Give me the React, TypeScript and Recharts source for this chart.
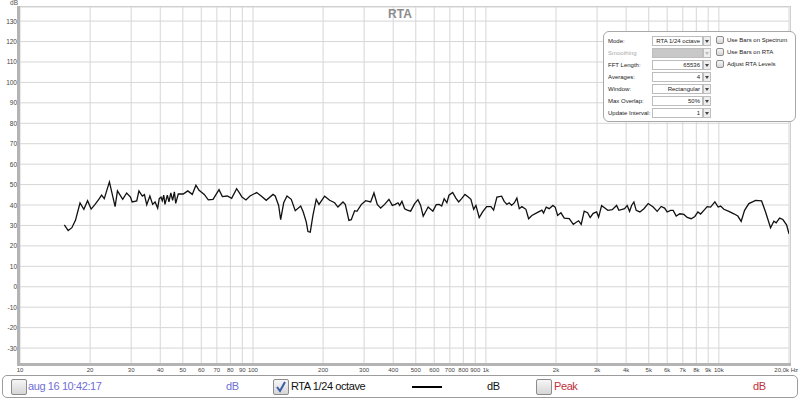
import React from 'react';
import { LineChart, Line, XAxis, YAxis, CartesianGrid } from 'recharts';

// RTA 1/24 octave trace
const freqHz = [
  15.5, 16.1, 16.7, 17.3, 18.1, 18.8, 19.5, 20.2, 21.0, 21.9, 22.4, 23.0, 24.2, 25.6, 26.2, 27.6,
  28.7, 29.8, 30.3, 31.7, 32.4, 33.5, 34.2, 35.0, 36.1, 37.1, 38.0, 39.0, 39.6, 40.3, 40.8, 41.4,
  41.9, 42.9, 43.6, 44.4, 45.2, 46.0, 46.6, 47.8, 50.2, 52.5, 54.9, 56.9, 58.7, 61.8, 64.3, 67.4,
  71.5, 73.9, 77.6, 81.0, 85.1, 87.9, 89.7, 93.3, 97.1, 103.7, 108.5, 114.0, 121.9, 124.6, 128.9,
  131.5, 135.5, 140.0, 146.0, 151.9, 160.3, 164.4, 169.4, 172.2, 176.2, 180.9, 186.9, 192.0, 203.1,
  213.4, 224.2, 231.6, 243.4, 249.0, 258.2, 264.2, 273.2, 279.5, 291.6, 304.6, 320.1, 330.7, 341.7,
  353.3, 367.5, 383.5, 396.3, 408.1, 419.2, 426.3, 436.1, 447.9, 459.5, 475.2, 494.4, 510.8, 524.6,
  538, 565, 592, 612, 630, 646, 662, 680, 694, 720, 743, 764, 787, 813, 840, 862, 886, 906, 936, 968,
  1007, 1051, 1079, 1115, 1168, 1198, 1231, 1259, 1289, 1323, 1358, 1390, 1427, 1485, 1525, 1575,
  1667, 1739, 1768, 1815, 1869, 1939, 1984, 2032, 2099, 2169, 2279, 2371, 2442, 2500, 2564, 2642,
  2732, 2803, 2888, 2987, 3046, 3138, 3273, 3338, 3484, 3639, 3722, 3846, 3938, 4040, 4137, 4220,
  4317, 4417, 4581, 4766, 4973, 5224, 5435, 5655, 5848, 6000, 6205, 6367, 6558, 6801, 7078, 7311,
  7606, 7889, 8127, 8347, 8623, 8909, 9214, 9612, 9931, 10170, 10508, 11038, 11596, 12063, 12464,
  12890, 13450, 14373, 15253, 15864, 16669, 17221, 17615, 18217, 18822, 19522, 20000,
];

const levelDb = [
  30.3, 27.5, 28.9, 32.5, 41, 37.9, 42.1, 38, 40.3, 43.1, 44.8, 43.1, 51.3, 39.2, 46.9, 42.8,
  45.9, 43.9, 41.5, 42, 46.9, 44.4, 45.1, 40.2, 44.4, 40.3, 41.5, 38.5, 43.1, 43.9, 42.1, 44.8,
  40.3, 44.8, 41.5, 45.9, 42.3, 46.4, 40.8, 45.4, 45.4, 46.9, 45.2, 49.7, 47.2, 45.2, 42.5, 42.8,
  47.5, 44.1, 44.4, 43.3, 48, 45.6, 43.9, 42.5, 44.4, 46.1, 44.4, 42.3, 45.2, 44.4, 39.8,
  32.8, 41.1, 44.4, 42.8, 37.2, 39.5, 36.6, 31.6, 27, 26.7, 34.9, 42.8, 40.3, 44.3,
  42.3, 41.1, 39, 41.5, 40.3, 32.5, 32.8, 37.2, 36.9, 40.2, 42.1, 41.5, 45.9, 40.3,
  38.5, 40.3, 42.8, 39.8, 40.3, 41.1, 39.8, 41.8, 38.2, 37.5, 37, 40.7, 42.6, 39.8,
  34.5, 39, 37, 40.2, 40.3, 39.5, 43.1, 41.1, 44.8, 46.1, 43.4, 41.5, 43.1, 45.2, 43.9, 42.8, 37.9, 39.8, 33.8, 36.6,
  39.2, 39.2, 37.5, 43.9, 44.3, 41.8, 40.3, 41.1, 39.8, 41, 43.4, 38.2, 39.2, 37.9, 33.3, 34.9,
  36.4, 37.5, 36.1, 39, 38.2, 39.8, 38.9, 34.9, 36.2, 33.6, 33.3, 30.5, 31.6, 32.3, 30.5, 37,
  36.2, 33.9, 35.9, 36.6, 34.1, 39.7, 38.2, 37.4, 37.7, 39.8, 37.4, 37.9, 38.2, 39.8, 36.9, 39.8,
  41.5, 37.4, 36.6, 38.2, 40.7, 39, 36.9, 39.3, 38.5, 36.6, 37.4, 37.4, 34.6, 35.7, 35.4, 33.9,
  33.3, 34.4, 36.6, 35.6, 37.4, 39.2, 39, 41.5, 39, 39.5, 37.9, 36.9, 35.7, 34.6, 32,
  37.4, 40.7, 42.3, 42, 36.6, 28.9, 32.1, 31.3, 33.6, 32.9, 30.3, 25.9,
];

const xTicks = [
  10, 20, 30, 40, 50, 60, 70, 80, 90, 100, 200, 300, 400, 500, 600, 700, 800, 900,
  1000, 2000, 3000, 4000, 5000, 6000, 7000, 8000, 9000, 10000, 20000,
];
const yTicks = [-30, -20, -10, 0, 10, 20, 30, 40, 50, 60, 70, 80, 90, 100, 110, 120, 130];

const modeRows = [
  { label: 'Mode:', value: 'RTA 1/24 octave' },
  { label: 'Smoothing', value: 'No Smoothing', disabled: true },
  { label: 'FFT Length:', value: '65536' },
  { label: 'Averages:', value: '4' },
  { label: 'Window:', value: 'Rectangular' },
  { label: 'Max Overlap:', value: '50%' },
  { label: 'Update Interval:', value: '1' },
];
const optionChecks = ['Use Bars on Spectrum', 'Use Bars on RTA', 'Adjust RTA Levels'];

const rtaData = freqHz.map((f, i) => ({ freq: f, level: levelDb[i] }));

const fmtFreq = (f: number) => {
  if (f === 20000) return '20,0k Hz';
  if (f >= 1000) return `${f / 1000}k`;
  return `${f}`;
};

const XTick = (props: any) => {
  const { x, payload } = props;
  const last = payload.value === 20000;
  return (
    <text
      x={last ? 798 : x}
      y={372}
      textAnchor={last ? 'end' : 'middle'}
      fontSize={6}
      fill="#444"
    >
      {fmtFreq(payload.value)}
    </text>
  );
};

const YTick = (props: any) => {
  const { y, payload } = props;
  return (
    <text x={17} y={y + 2.5} textAnchor="end" fontSize={6.5} fill="#444">
      {payload.value}
    </text>
  );
};

const Box = ({ checked = false, size = 16 }: { checked?: boolean; size?: number }) => (
  <div
    style={{
      width: size,
      height: size,
      boxSizing: 'border-box',
      border: '1px solid #8c8c8c',
      borderRadius: 2,
      background: 'linear-gradient(#f6f6f6, #d6d6d6)',
      position: 'relative',
      flexShrink: 0,
    }}
  >
    {checked && (
      <svg width={size} height={size} style={{ position: 'absolute', left: -1, top: -1 }}>
        <path d="M4 8 L7 12 L12 3" fill="none" stroke="#3a5ba8" strokeWidth={2} />
      </svg>
    )}
  </div>
);

export default function App() {
  const font = '"Liberation Sans", Arial, sans-serif';
  const legendText = { position: 'absolute' as const, top: 4, fontSize: 11, letterSpacing: -0.4, whiteSpace: 'nowrap' as const };
  return (
    <div
      style={{
        position: 'absolute',
        left: 0,
        top: 0,
        width: 800,
        height: 400,
        background: '#fff',
        fontFamily: font,
        overflow: 'hidden',
      }}
    >
      <LineChart
        width={800}
        height={375}
        data={rtaData}
        margin={{ top: 7, right: 11, left: 0, bottom: 0 }}
      >
        <CartesianGrid stroke="#d6d6d6" strokeWidth={1} />
        <XAxis
          dataKey="freq"
          type="number"
          scale="log"
          domain={[10, 20000]}
          ticks={xTicks}
          interval={0}
          tick={<XTick />}
          tickLine={false}
          axisLine={false}
          height={11}
          allowDataOverflow
        />
        <YAxis
          type="number"
          domain={[-37.8, 136.9]}
          ticks={yTicks}
          interval={0}
          tick={<YTick />}
          tickLine={false}
          axisLine={false}
          width={20}
          allowDataOverflow
        />
        <Line
          dataKey="level"
          type="linear"
          stroke="#111"
          strokeWidth={1.3}
          dot={false}
          isAnimationActive={false}
        />
        <text x={14} y={5} textAnchor="middle" fontSize={6.5} fill="#555">
          dB
        </text>
        <text x={400} y={18} textAnchor="middle" fontSize={12} fill="#8c8c8c" fontWeight="bold">
          RTA
        </text>
      </LineChart>

      {/* plot frame */}
      <div style={{ position: 'absolute', left: 17, top: 6, width: 774, height: 1, background: '#cfcfcf' }} />
      <div style={{ position: 'absolute', left: 790, top: 6, width: 1, height: 359, background: '#cfcfcf' }} />
      <div style={{ position: 'absolute', left: 17, top: 6, width: 3, height: 360, background: '#b4b4b4' }} />
      <div style={{ position: 'absolute', left: 17, top: 363, width: 774, height: 3, background: '#b4b4b4' }} />

      {/* RTA settings panel */}
      <div
        style={{
          position: 'absolute',
          left: 603,
          top: 31,
          width: 193,
          height: 91,
          boxSizing: 'border-box',
          border: '1px solid #a8a8a8',
          borderRadius: 6,
          background: '#fff',
          fontSize: 6,
          color: '#222',
          whiteSpace: 'nowrap',
        }}
      >
        {modeRows.map((r, i) => (
          <div key={r.label} style={{ position: 'absolute', left: 4, top: 4 + i * 12, height: 10, width: 104 }}>
            <span
              style={{
                position: 'absolute',
                left: 0,
                top: 2,
                color: r.disabled ? '#aaa' : '#222',
              }}
            >
              {r.label}
            </span>
            <div
              style={{
                position: 'absolute',
                left: 44,
                top: 0,
                width: 51,
                height: 10,
                boxSizing: 'border-box',
                border: '1px solid #bdbdbd',
                background: r.disabled ? '#c8c8c8' : '#fff',
                textAlign: 'right',
                paddingRight: 2,
                lineHeight: '8px',
                overflow: 'hidden',
                color: r.disabled ? '#c8c8c8' : '#222',
              }}
            >
              {r.value}
            </div>
            <div
              style={{
                position: 'absolute',
                left: 95,
                top: 0,
                width: 8,
                height: 10,
                boxSizing: 'border-box',
                border: '1px solid #bdbdbd',
                background: '#eee',
              }}
            >
              <svg width={6} height={8} style={{ position: 'absolute', left: 0, top: 0 }}>
                <path d="M1 3 L5 3 L3 6 Z" fill={r.disabled ? '#bbb' : '#444'} />
              </svg>
            </div>
          </div>
        ))}
        {optionChecks.map((t, i) => (
          <div key={t} style={{ position: 'absolute', left: 112, top: 4 + i * 12, display: 'flex', alignItems: 'center' }}>
            <Box size={8} />
            <span style={{ marginLeft: 3 }}>{t}</span>
          </div>
        ))}
      </div>

      {/* legend bar */}
      <div
        style={{
          position: 'absolute',
          left: 2,
          top: 375,
          width: 796,
          height: 23,
          boxSizing: 'border-box',
          border: '1px solid #9c9c9c',
          borderRadius: 5,
        }}
      >
        <div style={{ position: 'absolute', left: 8, top: 3 }}>
          <Box />
        </div>
        <span style={{ ...legendText, left: 25, color: '#6f6fd6' }}>aug 16 10:42:17</span>
        <span style={{ ...legendText, left: 223, color: '#6f6fd6' }}>dB</span>
        <div style={{ position: 'absolute', left: 270, top: 3 }}>
          <Box checked />
        </div>
        <span style={{ ...legendText, left: 288, color: '#111' }}>RTA 1/24 octave</span>
        <div style={{ position: 'absolute', left: 409, top: 10, width: 30, height: 2, background: '#000' }} />
        <span style={{ ...legendText, left: 484, color: '#111' }}>dB</span>
        <div style={{ position: 'absolute', left: 533, top: 3 }}>
          <Box />
        </div>
        <span style={{ ...legendText, left: 551, color: '#c0303a' }}>Peak</span>
        <span style={{ ...legendText, left: 750, color: '#c0303a' }}>dB</span>
      </div>
    </div>
  );
}
